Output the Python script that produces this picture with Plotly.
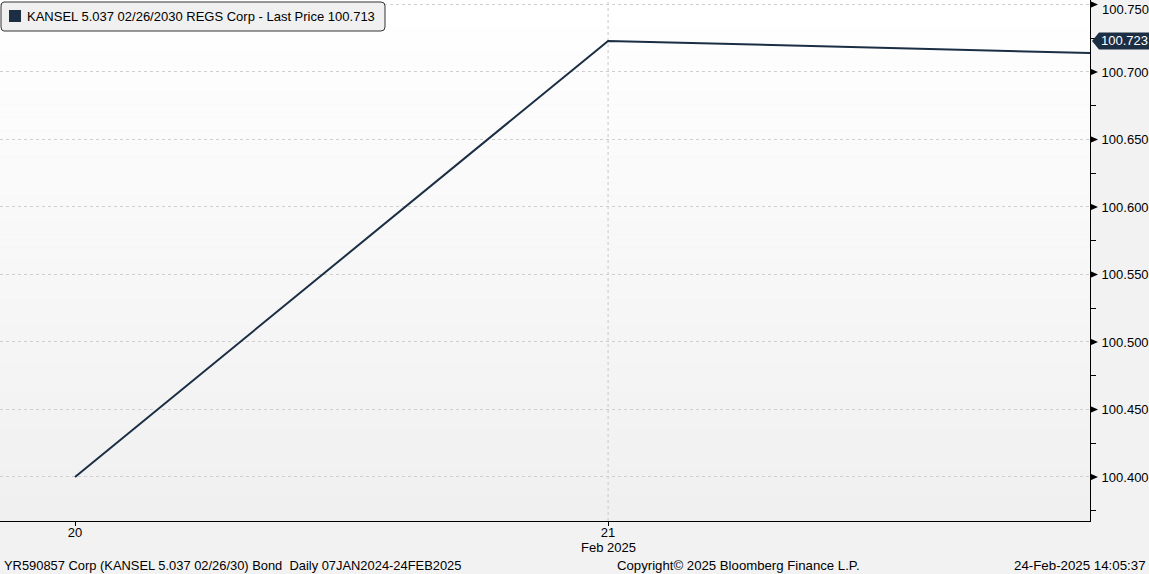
import plotly.graph_objects as go

# Data
day_labels = ["20", "21", "24"]
day_index = [0, 1, 2]
month_label = "Feb 2025"
month_label_day = 1
last_price = [100.400, 100.723, 100.713]
y_ticks = [100.400, 100.450, 100.500, 100.550, 100.600, 100.650, 100.700, 100.750]
y_minor = [100.375, 100.425, 100.475, 100.525, 100.575, 100.625, 100.675, 100.725]
vgrid_days = [1]
last_label_value = 100.723
legend_text = "KANSEL 5.037 02/26/2030 REGS Corp - Last Price 100.713"
footer_left = "YR590857 Corp (KANSEL 5.037 02/26/30) Bond  Daily 07JAN2024-24FEB2025"
footer_mid = "Copyright\u00a9 2025 Bloomberg Finance L.P."
footer_right = "24-Feb-2025 14:05:37"

navy = "#1b2e44"
font_fam = "Liberation Sans, Arial, sans-serif"

x_range = [-0.1407, 1.904]
y_range = [100.3674, 100.7533]
plot_w, plot_h = 1090, 521
xpx = 1.0 / plot_w  # paper units per pixel
pypx = 1.0 / plot_h


def yp(v):
    return (v - y_range[0]) / (y_range[1] - y_range[0])


fig = go.Figure()

shapes = []
n = 40
for i in range(n):
    t = i / (n - 1)
    c = int(round(255 - t * (255 - 240)))
    shapes.append(dict(type="rect", xref="paper", yref="paper",
                       x0=0, x1=1, y0=1 - (i + 1) / n, y1=1 - i / n,
                       fillcolor=f"rgb({c},{c},{c})", line=dict(width=0),
                       layer="below"))
for d in vgrid_days:
    shapes.append(dict(type="line", xref="x", yref="paper", x0=d, x1=d, y0=0, y1=1,
                       line=dict(color="#c8c8c8", width=1, dash="dot"), layer="below"))

# triangles at major ticks (paper coords so they are not clipped)
for v in y_ticks:
    p = yp(v)
    shapes.append(dict(type="path", xref="paper", yref="paper",
                       path=f"M 1,{p - 3.5 * pypx} L {1 + 8 * xpx},{p} L 1,{p + 3.5 * pypx} Z",
                       fillcolor="black", line=dict(width=0), layer="above"))

# last price tag with notch
tp = yp(last_label_value)
tag_left = 1 + 2 * xpx
tag_notch = tag_left + 7 * xpx
tag_right = 1 + 60 * xpx
h = 8.5 * pypx
shapes.append(dict(type="path", xref="paper", yref="paper",
                   path=(f"M {tag_left},{tp} L {tag_notch},{tp + h} "
                         f"L {tag_right},{tp + h} L {tag_right},{tp - h} "
                         f"L {tag_notch},{tp - h} Z"),
                   fillcolor=navy, line=dict(width=0), layer="above"))

# legend box and square
shapes.append(dict(type="path", xref="paper", yref="paper",
                   path=(f"M {4*xpx},{1-2*pypx} L {381*xpx},{1-2*pypx} "
                         f"Q {385*xpx},{1-2*pypx} {385*xpx},{1-6*pypx} L {385*xpx},{1-27*pypx} "
                         f"Q {385*xpx},{1-31*pypx} {381*xpx},{1-31*pypx} L {4*xpx},{1-31*pypx} "
                         f"Q {1*xpx},{1-31*pypx} {1*xpx},{1-27*pypx} L {1*xpx},{1-6*pypx} "
                         f"Q {1*xpx},{1-2*pypx} {4*xpx},{1-2*pypx} Z"),
                   fillcolor="#f0f0f0", line=dict(color="#333333", width=1), layer="above"))
shapes.append(dict(type="rect", xref="paper", yref="paper",
                   x0=9 * xpx, x1=21 * xpx, y0=1 - 22 * pypx, y1=1 - 10 * pypx,
                   fillcolor=navy, line=dict(width=0), layer="above"))

fig.add_trace(go.Scatter(x=day_index, y=last_price, mode="lines",
                         line=dict(color=navy, width=2), showlegend=False,
                         hoverinfo="skip"))

tick_text = [f"{v:.3f}" if v < 100.74 else "" for v in y_ticks]

fig.update_layout(
    width=1149, height=574,
    margin=dict(l=0, r=59, t=0, b=53, autoexpand=False),
    paper_bgcolor="#f2f2f2",
    plot_bgcolor="rgba(0,0,0,0)",
    font=dict(family=font_fam, size=13, color="black"),
    shapes=shapes,
    xaxis=dict(range=x_range, tickvals=day_index, ticktext=day_labels,
               showgrid=False, zeroline=False, showline=True, linecolor="black",
               linewidth=1, ticks="outside", ticklen=4, tickcolor="black",
               ticklabelstandoff=-5, tickfont=dict(size=13), automargin=False),
    yaxis=dict(range=y_range, side="right", tickvals=y_ticks, ticktext=tick_text,
               showgrid=True, gridcolor="#cfcfcf", griddash="dot", gridwidth=1,
               zeroline=False, showline=True, linecolor="black", linewidth=1,
               ticks="", ticklabelstandoff=8, tickfont=dict(size=13), automargin=False,
               minor=dict(tickvals=y_minor, ticks="outside", ticklen=5,
                          tickcolor="black", showgrid=False)),
)

# legend text
fig.add_annotation(xref="paper", yref="paper", x=25 * xpx, y=1 - 16.5 * pypx, xanchor="left",
                   yanchor="middle", text=legend_text, showarrow=False,
                   font=dict(size=13.0, color="black"))

# top tick label, nudged inside the page like the reference
fig.add_annotation(xref="paper", yref="paper", x=1 + 10 * xpx, y=1 - 9 * pypx, xanchor="left",
                   yanchor="middle", text=f"{y_ticks[-1]:.3f}", showarrow=False,
                   font=dict(size=13))

# last price text
fig.add_annotation(xref="paper", yref="paper", x=1 + 9 * xpx, y=tp, xanchor="left",
                   yanchor="middle", text=f"{last_label_value:.3f}", showarrow=False,
                   font=dict(color="white", size=13))

# month label under the day tick
fig.add_annotation(xref="x", yref="paper", x=month_label_day, y=-27 * pypx, xanchor="center",
                   yanchor="middle", text=month_label, showarrow=False, font=dict(size=13))

# footer
fig.add_annotation(xref="paper", yref="paper", x=2 * xpx, y=-44 * pypx, xanchor="left",
                   yanchor="middle", text=footer_left, showarrow=False, font=dict(size=12.9))
fig.add_annotation(xref="paper", yref="paper", x=615 * xpx, y=-44 * pypx, xanchor="left",
                   yanchor="middle", text=footer_mid, showarrow=False, font=dict(size=13.2))
fig.add_annotation(xref="paper", yref="paper", x=1148 * xpx, y=-44 * pypx, xanchor="right",
                   yanchor="middle", text=footer_right, showarrow=False, font=dict(size=13.3))

fig.write_html("out.html", config={"displayModeBar": False},
               post_script="document.body.style.margin='0';document.body.style.padding='0';")
